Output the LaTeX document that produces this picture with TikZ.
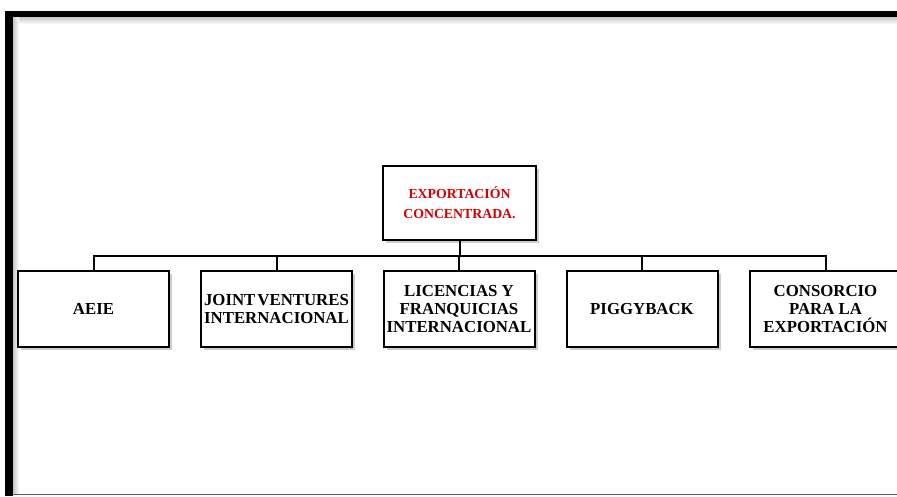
\documentclass[tikz,border=0pt]{standalone}
\usepackage{fontspec}
\setmainfont{Liberation Serif}
\usetikzlibrary{shadows}
\definecolor{exred}{RGB}{215,0,0}
\definecolor{framegray}{RGB}{90,90,90}
\begin{document}
\begin{tikzpicture}[x=1pt,y=-1pt,
  orgbox/.style={draw=black, line width=2pt, fill=white, inner sep=0pt,
    minimum width=151pt, minimum height=76pt, align=center,
    font=\fontsize{16.8}{18}\selectfont\bfseries,
    drop shadow={shadow xshift=3pt, shadow yshift=-3pt, opacity=0.4, fill=gray}},
  topbox/.style={orgbox, minimum width=153pt, minimum height=74pt,
    text=exred, font=\fontsize{13.8}{20}\selectfont\bfseries},
  conn/.style={line width=2pt, draw=black}]
\useasboundingbox (0,0) rectangle (897,496);
\fill[white] (0,0) rectangle (897,496);
% frame
\shade[top color=gray!45, bottom color=white] (13,17) rectangle (897,24);
\shade[left color=gray!45, right color=white] (13,17) rectangle (19,494);
\fill[black] (5,11) rectangle (13,496);
\fill[black] (5,11) rectangle (897,17);
\draw[framegray, line width=1.5pt] (13,494.5) -- (897,494.5);
% nodes
\node[topbox] (top) at (459.5,203) {EXPORTACIÓN\\CONCENTRADA.};
\node[orgbox] (aeie) at (93.5,309) {AEIE};
\node[orgbox] (joint) at (276.5,309) {JOINT\hspace{0.12em}VENTURES\\INTERNACIONAL};
\node[orgbox] (lic) at (459,309) {LICENCIAS Y\\FRANQUICIAS\\INTERNACIONAL};
\node[orgbox] (pig) at (642,309) {PIGGYBACK};
\node[orgbox] (cons) at (825.5,309) {CONSORCIO\\PARA LA\\EXPORTACIÓN};
\coordinate (bus) at (459,256);
% connectors
\draw[conn] (top.south) -- (top.south |- bus);
\draw[conn] (aeie.north) -- (aeie.north |- bus) -- (cons.north |- bus) -- (cons.north);
\draw[conn] (joint.north) -- (joint.north |- bus);
\draw[conn] (lic.north) -- (lic.north |- bus);
\draw[conn] (pig.north) -- (pig.north |- bus);
\end{tikzpicture}
\end{document}
